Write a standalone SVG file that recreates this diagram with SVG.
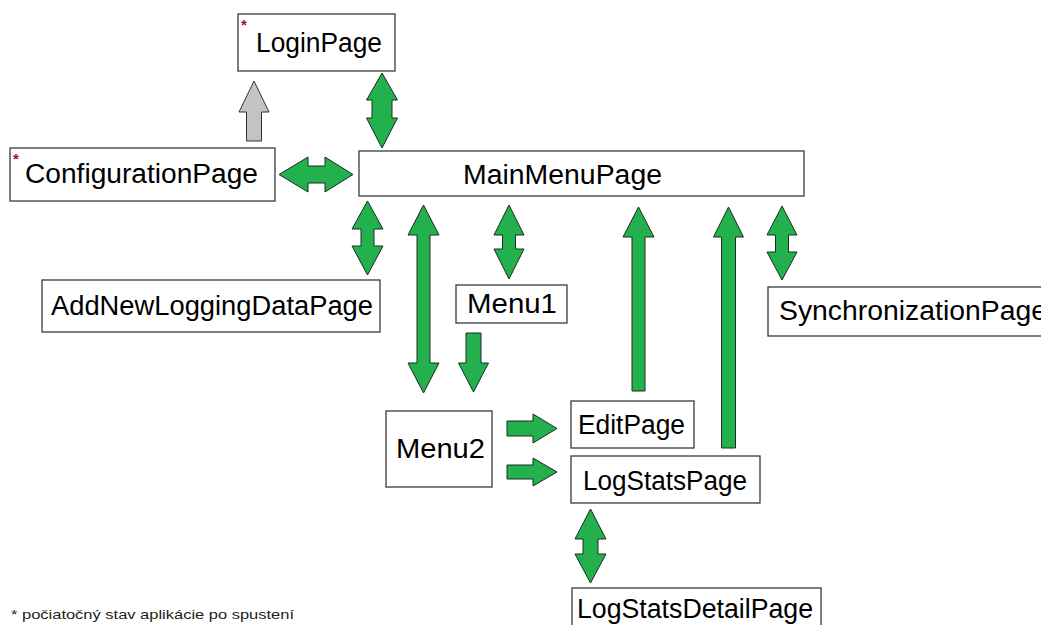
<svg xmlns="http://www.w3.org/2000/svg" width="1041" height="625" viewBox="0 0 1041 625">
  <style>
    .box { fill: #ffffff; stroke: #3a3a3a; stroke-width: 1.3; }
    .lbl { font-family: "Liberation Sans", Arial, sans-serif; font-size: 27px; fill: #000000; }
    .star { font-family: "Liberation Sans", Arial, sans-serif; font-size: 15px; font-weight: bold; fill: #a0102a; }
    .note { font-family: "Liberation Sans", Arial, sans-serif; font-size: 13.5px; fill: #222222; }
    .arr { fill: #22b14c; stroke: #1e2a22; stroke-width: 1; stroke-linejoin: miter; }
    .arr-gray { fill: #c3c3c3; stroke: #333333; stroke-width: 1; }
  </style>
  <rect width="1041" height="625" fill="#ffffff"/>

  <!-- connectors -->
  <g id="connectors">
    <!-- ConfigurationPage -> LoginPage -->
    <polygon class="arr-gray" points="254,81 269,112 261.5,112 261.5,141 246.5,141 246.5,112 239,112"/>
    <!-- LoginPage <-> MainMenuPage -->
    <polygon class="arr" points="382,73 397.5,100 392,100 392,118 397.5,118 382,148 366.5,118 372,118 372,100 366.5,100"/>
    <!-- ConfigurationPage <-> MainMenuPage -->
    <polygon class="arr" points="279,174.5 308,157 308,166 325,166 325,157 353,174.5 325,192 325,183 308,183 308,192"/>
    <!-- MainMenuPage <-> AddNewLoggingDataPage -->
    <polygon class="arr" points="367.5,201 383,229 374,229 374,246 383,246 367.5,275 352,246 361,246 361,229 352,229"/>
    <!-- MainMenuPage <-> Menu2 -->
    <polygon class="arr" points="423.5,205 439,235 430,235 430,363 439,363 423.5,393 408,363 417,363 417,235 408,235"/>
    <!-- MainMenuPage <-> Menu1 -->
    <polygon class="arr" points="509,205 524,235 515.5,235 515.5,249 524,249 509,279 494,249 502.5,249 502.5,235 494,235"/>
    <!-- EditPage -> MainMenuPage -->
    <polygon class="arr" points="638.5,207 654,237 645,237 645,391 632,391 632,237 623,237"/>
    <!-- LogStatsPage -> MainMenuPage -->
    <polygon class="arr" points="728.5,207 743.5,237 735.5,237 735.5,448 721.5,448 721.5,237 713.5,237"/>
    <!-- MainMenuPage <-> SynchronizationPage -->
    <polygon class="arr" points="782,206 797,235 788.5,235 788.5,252 797,252 782,280 767,252 775.5,252 775.5,235 767,235"/>
    <!-- Menu1 -> Menu2 -->
    <polygon class="arr" points="466,333 481,333 481,363 488.5,363 473.5,392 458.5,363 466,363"/>
    <!-- Menu2 -> EditPage -->
    <polygon class="arr" points="507,421 533,421 533,414 557,428.5 533,443 533,436 507,436"/>
    <!-- Menu2 -> LogStatsPage -->
    <polygon class="arr" points="507,465 533,465 533,458 557,472 533,486 533,479 507,479"/>
    <!-- LogStatsPage <-> LogStatsDetailPage -->
    <polygon class="arr" points="590.5,509 606,539 598,539 598,554 606,554 590.5,583 575,554 583,554 583,539 575,539"/>
  </g>

  <!-- nodes -->
  <g id="login-page">
    <rect class="box" x="238" y="14" width="157" height="57"/>
    <text class="star" x="241" y="30">*</text>
    <text class="lbl" x="256" y="52" textLength="126" lengthAdjust="spacingAndGlyphs">LoginPage</text>
  </g>
  <g id="configuration-page">
    <rect class="box" x="10" y="148" width="265" height="53"/>
    <text class="star" x="13" y="164">*</text>
    <text class="lbl" x="25" y="183" textLength="233" lengthAdjust="spacingAndGlyphs">ConfigurationPage</text>
  </g>
  <g id="main-menu-page">
    <rect class="box" x="359" y="151" width="445" height="45"/>
    <text class="lbl" x="463" y="184" textLength="199" lengthAdjust="spacingAndGlyphs">MainMenuPage</text>
  </g>
  <g id="add-new-logging-data-page">
    <rect class="box" x="42" y="280" width="338" height="52"/>
    <text class="lbl" x="51" y="315" textLength="322" lengthAdjust="spacingAndGlyphs">AddNewLoggingDataPage</text>
  </g>
  <g id="menu1">
    <rect class="box" x="456" y="285" width="111" height="38"/>
    <text class="lbl" x="467" y="313" textLength="90" lengthAdjust="spacingAndGlyphs">Menu1</text>
  </g>
  <g id="synchronization-page">
    <rect class="box" x="768" y="287" width="290" height="49"/>
    <text class="lbl" x="779" y="320" textLength="268" lengthAdjust="spacingAndGlyphs">SynchronizationPage</text>
  </g>
  <g id="menu2">
    <rect class="box" x="386" y="411" width="106" height="76"/>
    <text class="lbl" x="396" y="458" textLength="89" lengthAdjust="spacingAndGlyphs">Menu2</text>
  </g>
  <g id="edit-page">
    <rect class="box" x="571" y="401" width="123" height="47"/>
    <text class="lbl" x="578" y="434" textLength="107" lengthAdjust="spacingAndGlyphs">EditPage</text>
  </g>
  <g id="log-stats-page">
    <rect class="box" x="571" y="456" width="189" height="47"/>
    <text class="lbl" x="583" y="490" textLength="164" lengthAdjust="spacingAndGlyphs">LogStatsPage</text>
  </g>
  <g id="log-stats-detail-page">
    <rect class="box" x="572" y="588" width="249" height="50"/>
    <text class="lbl" x="577" y="618" textLength="236" lengthAdjust="spacingAndGlyphs">LogStatsDetailPage</text>
  </g>

  <!-- footnote -->
  <text class="note" x="11" y="619" textLength="283" lengthAdjust="spacingAndGlyphs">* počiatočný stav aplikácie po spustení</text>
</svg>
